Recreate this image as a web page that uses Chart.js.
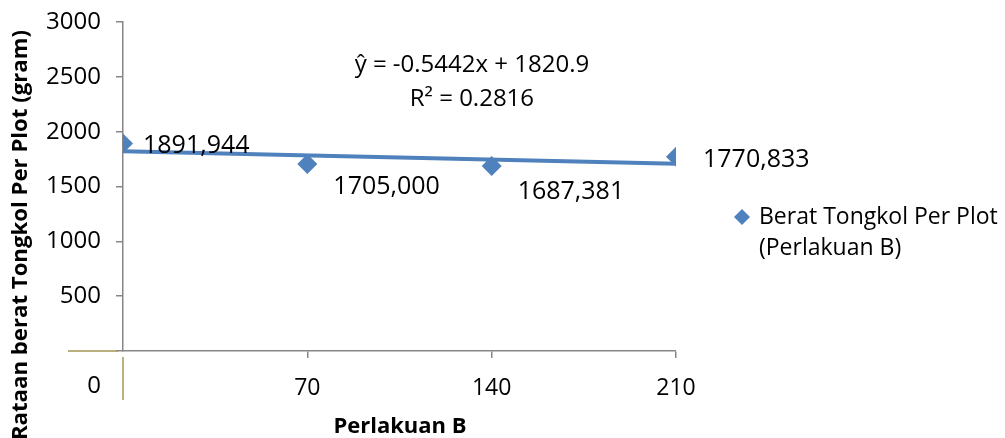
<!DOCTYPE html>
<html>
<head>
<meta charset="utf-8">
<script src="https://cdn.jsdelivr.net/npm/chart.js@4/dist/chart.umd.min.js"></script>
<style>
  html, body { margin: 0; padding: 0; background: #ffffff; }
  #wrap { width: 1005px; height: 438px; position: relative; }
</style>
</head>
<body>
<div id="wrap"><canvas id="chart" width="1005" height="438"></canvas></div>
<script>
// Dosis perlakuan B (sumbu X) dan rataan berat tongkol per plot (gram)
const doses = [0, 70, 140, 210];
const weights = [1891.944, 1705.000, 1687.381, 1770.833];
const xTicks = [0, 70, 140, 210];
const yTicks = [0, 500, 1000, 1500, 2000, 2500, 3000];
// Koefisien garis regresi linear dan R²
const trendSlope = -0.5442;
const trendIntercept = 1820.9;
const trendR2 = 0.2816;

const seriesName = ['Berat Tongkol Per Plot', '(Perlakuan B)'];
const xTitle = 'Perlakuan B';
const yTitle = 'Rataan berat Tongkol Per Plot (gram)';

const BLUE = '#4F81BD';
const AXIS = '#868686';
const FONT = "'Open Sans', sans-serif";

const points = doses.map((x, i) => ({ x: x, y: weights[i] }));
const trendX = [doses[0], doses[doses.length - 1]];
const trendPoints = trendX.map(x => ({ x: x, y: trendSlope * x + trendIntercept }));

const fmtComma = v => v.toFixed(3).replace('.', ',');

// label offsets (px) relative to each marker
const labelOffsets = [[20, 2], [26, 23], [26, 26], [27, 3]];

const decorPlugin = {
  id: 'decor',
  afterDatasetsDraw(chart) {
    const ctx = chart.ctx;
    const meta = chart.getDatasetMeta(1);
    ctx.save();
    ctx.fillStyle = '#000000';
    ctx.font = '25px ' + FONT;
    ctx.textAlign = 'left';
    ctx.textBaseline = 'middle';
    meta.data.forEach((el, i) => {
      const o = labelOffsets[i];
      ctx.fillText(fmtComma(weights[i]), el.x + o[0], el.y + o[1]);
    });
    ctx.restore();
  },
  afterDraw(chart) {
    const ctx = chart.ctx;
    const ca = chart.chartArea;
    const xs = chart.scales.x;
    ctx.save();
    // trend equation
    ctx.fillStyle = '#000000';
    ctx.font = '24px ' + FONT;
    ctx.textAlign = 'center';
    ctx.textBaseline = 'middle';
    const cx = xs.getPixelForValue(132.5);
    const sign = trendIntercept >= 0 ? '+' : '-';
    ctx.fillText('\u0177 = ' + trendSlope.toFixed(4) + 'x ' + sign + ' ' + Math.abs(trendIntercept).toFixed(1), cx, 65);
    ctx.fillText('R\u00B2 = ' + trendR2.toFixed(4), cx, 99);

    // axis titles
    ctx.font = 'bold 22px ' + FONT;
    ctx.fillText(xTitle, 400, 427);
    ctx.save();
    ctx.translate(21, 235);
    ctx.rotate(-Math.PI / 2);
    ctx.font = 'bold 22.2px ' + FONT;
    ctx.fillText(yTitle, 0, 0);
    ctx.restore();

    // origin label
    ctx.font = '24px ' + FONT;
    ctx.textAlign = 'right';
    ctx.fillText('0', 101, 386);

    // short marks near origin
    ctx.strokeStyle = '#A39556';
    ctx.lineWidth = 1.5;
    ctx.beginPath();
    ctx.moveTo(68, ca.bottom);
    ctx.lineTo(ca.left - 5, ca.bottom);
    ctx.moveTo(ca.left, ca.bottom + 6);
    ctx.lineTo(ca.left, 400);
    ctx.stroke();

    // legend
    const lx = 742, ly = 217, r = 8;
    ctx.fillStyle = BLUE;
    ctx.beginPath();
    ctx.moveTo(lx, ly - r);
    ctx.lineTo(lx + r, ly);
    ctx.lineTo(lx, ly + r);
    ctx.lineTo(lx - r, ly);
    ctx.closePath();
    ctx.fill();
    ctx.fillStyle = '#000000';
    ctx.font = '23px ' + FONT;
    ctx.textAlign = 'left';
    ctx.fillText(seriesName[0], 759, ly);
    ctx.fillText(seriesName[1], 759, ly + 31);
    ctx.restore();
  }
};

new Chart(document.getElementById('chart'), {
  type: 'scatter',
  data: {
    datasets: [
      {
        label: 'Linear',
        data: trendPoints,
        showLine: true,
        borderColor: BLUE,
        borderWidth: 4,
        pointRadius: 0,
        fill: false
      },
      {
        label: seriesName.join(' '),
        data: points,
        pointStyle: 'rectRot',
        pointRadius: 10,
        pointBackgroundColor: BLUE,
        pointBorderColor: BLUE,
        pointBorderWidth: 0,
        showLine: false
      }
    ]
  },
  options: {
    responsive: false,
    animation: false,
    layout: { padding: { top: 22, right: 329, bottom: 0, left: 0 } },
    plugins: {
      legend: { display: false },
      tooltip: { enabled: false }
    },
    scales: {
      x: {
        type: 'linear',
        min: xTicks[0],
        max: xTicks[xTicks.length - 1],
        afterBuildTicks: s => { s.ticks = xTicks.map(v => ({ value: v })); },
        afterFit: s => { s.height = 87; s.paddingLeft = 0; s.paddingRight = 0; },
        border: { color: AXIS, width: 1.5 },
        grid: { drawOnChartArea: false, drawTicks: true, tickLength: 7, color: AXIS, lineWidth: c => (c.tick && c.tick.value === 0 ? 0 : 1.5) },
        ticks: {
          color: '#000000',
          font: { family: FONT, size: 23 },
          padding: 17,
          maxRotation: 0,
          callback: v => (v === 0 ? '' : String(v))
        },
        title: { display: false }
      },
      y: {
        min: yTicks[0],
        max: yTicks[yTicks.length - 1],
        afterBuildTicks: s => { s.ticks = yTicks.map(v => ({ value: v })); },
        afterFit: s => { s.width = 123; s.paddingTop = 0; s.paddingBottom = 0; },
        border: { color: AXIS, width: 1.5 },
        grid: { drawOnChartArea: false, drawTicks: true, tickLength: 7, color: AXIS, lineWidth: 1.5 },
        ticks: {
          color: '#000000',
          font: { family: FONT, size: 24 },
          padding: 15,
          callback: v => (v === 0 ? '' : String(v))
        },
        title: { display: false }
      }
    }
  },
  plugins: [decorPlugin]
});
</script>
</body>
</html>
